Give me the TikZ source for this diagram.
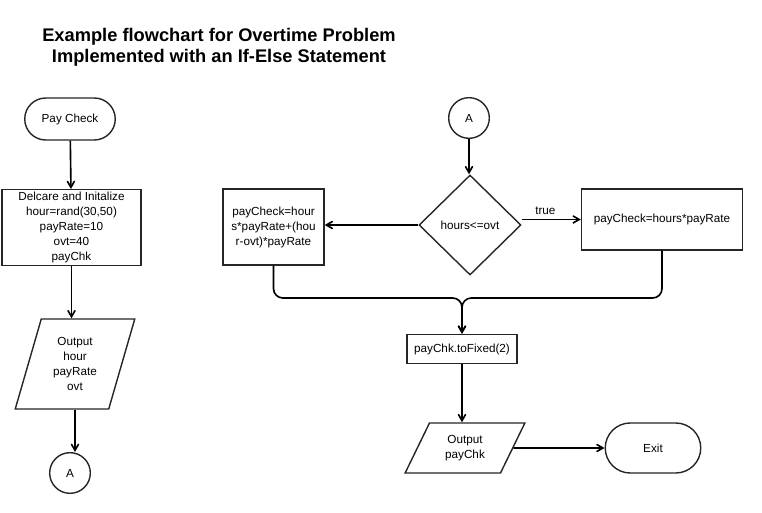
\documentclass[tikz,border=0pt]{standalone}
\usepackage{fontspec}
\setmainfont{Liberation Sans}
\usetikzlibrary{arrows,shapes.geometric,shapes.misc}

\tikzset{
	every node/.style={font=\fontsize{10}{12.8}\selectfont, align=center, line width=1.2pt, draw=black!85},
	term/.style={rounded rectangle, minimum width=2.95cm, minimum height=1.26cm},
	proc/.style={rectangle, inner sep=2pt},
	io/.style={trapezium, trapezium left angle=72, trapezium right angle=108, trapezium stretches=true},
	conn/.style={circle, minimum size=1.22cm, inner sep=0pt},
	dec/.style={diamond, minimum width=3.06cm, minimum height=3cm, inner sep=0pt},
	flow/.style={->, line width=1.4pt}
}

\begin{document}
\begin{tikzpicture}[>=angle 60, x=0.03cm, y=-0.03cm]
	\useasboundingbox (0,0) rectangle (762,513);
	%\draw [help lines] (0,0) grid (762,513);
	\node [draw=none, font=\fontsize{15.6}{18}\selectfont\bfseries] (title) at (219,47) {Example flowchart for Overtime Problem\\Implemented with an If-Else Statement};

	% left column
	\node [term] (pay) at (70,119) {Pay Check};
	\node [proc, minimum width=4.17cm, minimum height=2.25cm] (init) at (71.5,227.5) {Delcare and Initalize\\hour=rand(30,50)\\payRate=10\\ovt=40\\payChk};
	\node [io, minimum width=3.6cm, minimum height=2.7cm] (out1) at (75,364) {Output\\hour\\payRate\\ovt};
	\node [conn] (a1) at (70,473) {A};
	\draw [flow] (pay) -- (init);
	\draw [flow] (init) -- (init |- out1.north);
	\draw [flow] (out1.south) -- (out1.south |- a1.north);

	% right column
	\node [conn] (a2) at (469,118) {A};
	\node [dec] (test) at (470,225) {hours<=ovt};
	\node [proc, minimum width=3.03cm, minimum height=2.28cm] (over) at (273.5,227) {payCheck=hour\\s*payRate+(hou\\r-ovt)*payRate};
	\node [proc, minimum width=4.83cm, minimum height=1.83cm] (reg) at (662,219.5) {payCheck=hours*payRate};
	\node [proc, minimum width=3.3cm, minimum height=0.87cm] (fix) at (462,349) {payChk.toFixed(2)};
	\node [io, trapezium left angle=64, trapezium right angle=116, minimum width=3.6cm, minimum height=1.5cm] (out2) at (465,448) {Output\\payChk};
	\node [term, minimum width=3.1cm, minimum height=1.5cm] (exit) at (653,448) {Exit};
	\coordinate (join) at (462,298);

	\draw [flow] (a2) -- (a2 |- test.north);
	\draw [flow] (test.west) -- (over.east |- test.west);
	\draw [flow] (test.east |- reg.west) -- (reg.west) node [pos=0.4, above, draw=none] {true};
	\draw [flow, rounded corners=8] (over.south) |- (join) -- (fix.north);
	\draw [flow, rounded corners=8] (reg.south) |- (join) -- (fix.north);
	\draw [flow] (fix) -- (fix |- out2.north);
	\draw [flow] (out2.east) -- (exit.west);
\end{tikzpicture}
\end{document}
